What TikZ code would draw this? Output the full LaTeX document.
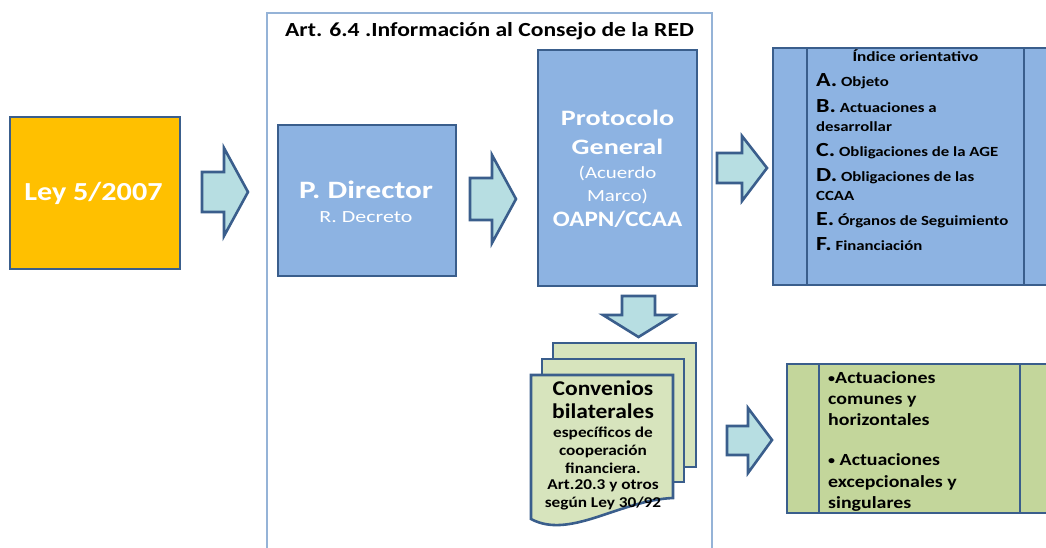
\documentclass[tikz,border=0pt]{standalone}
\usepackage{fontspec}
\setmainfont{Carlito}
\definecolor{bord}{HTML}{3A5E8C}
\definecolor{lawfill}{HTML}{FFC000}
\definecolor{bluefill}{HTML}{8DB3E2}
\definecolor{arrfill}{HTML}{B7DEE2}
\definecolor{framecol}{HTML}{95B3D7}
\definecolor{docfill}{HTML}{D7E4BD}
\definecolor{greenfill}{HTML}{C3D69B}
\tikzset{
  boxshape/.style={draw=bord, line width=2.6pt, rectangle, inner sep=0pt},
  blockarrow/.style={draw=bord, fill=arrfill, line width=2.6pt, line join=miter},
  docshape/.style={draw=bord, fill=docfill, line width=2.6pt, line join=miter},
  wtext/.style={text=white, inner sep=0pt},
  ktext/.style={text=black, inner sep=0pt},
}
\newcommand{\fs}[1]{\fontsize{#1}{#1}\selectfont}
\newcommand{\sx}[2]{\scalebox{#1}[1]{#2}}
\newcommand{\smallbul}{{\fs{12}\raisebox{1pt}{•}}}
\begin{document}
\begin{tikzpicture}[x=1pt,y=-1pt]
\useasboundingbox (0,0) rectangle (1046,547);
\clip (0,0) rectangle (1046,547);

% outer frame
\draw[framecol, line width=2pt] (267,560) -- (267,13) -- (712,13) -- (712,560);
\node[ktext, font=\bfseries\fs{20}] (title) at (489.5,31) {\sx{1.18}{Art. 6.4 .Información al Consejo de la RED}};

% Ley box
\node[boxshape, fill=lawfill, minimum width=170pt, minimum height=152pt] (ley) at (95,193) {};
\node[wtext, font=\bfseries\fs{26}] (leyt) at (93.5,193) {\sx{1.16}{Ley 5/2007}};

% arrow 1
\draw[blockarrow] (202,172) -- (224,172) -- (224,148) -- (248,192) -- (224,236) -- (224,212) -- (202,212) -- cycle;

% P. Director
\node[boxshape, fill=bluefill, minimum width=178pt, minimum height=151pt] (pdir) at (367,200.5) {};
\node[wtext, font=\bfseries\fs{25}] (pdirt) at (366,190) {\sx{1.25}{P. Director}};
\node[wtext, font=\fs{17}] (pdirs) at (366,217) {\sx{1.29}{R. Decreto}};

% arrow 2
\draw[blockarrow] (470,178) -- (492,178) -- (492,155) -- (516,199) -- (492,243) -- (492,220) -- (470,220) -- cycle;

% Protocolo
\node[boxshape, fill=bluefill, minimum width=159pt, minimum height=236pt] (prot) at (617.5,168) {};
\node[wtext, font=\bfseries\fs{22}] (p1) at (617.5,118) {\sx{1.28}{Protocolo}};
\node[wtext, font=\bfseries\fs{22}] (p2) at (617.5,147) {\sx{1.28}{General}};
\node[wtext, font=\fs{17}] (p3) at (617.5,173) {\sx{1.23}{(Acuerdo}};
\node[wtext, font=\fs{17}] (p4) at (617.5,196) {\sx{1.23}{Marco)}};
\node[wtext, font=\bfseries\fs{22}] (p5) at (617.5,219) {\sx{1.14}{OAPN/CCAA}};

% down arrow
\draw[blockarrow] (622,296) -- (655,296) -- (655,315) -- (674,315) -- (638.5,337) -- (603,315) -- (622,315) -- cycle;

% documents
\draw[docshape] (553,343) rectangle (696,467);
\draw[docshape] (542,359) rectangle (684,482);
\draw[docshape] (531,375) -- (673,375) -- (673,498) .. controls (620,500) and (570,540) .. (531,519) -- cycle;
\node[ktext, font=\bfseries\fs{21}] (c1) at (603,388) {\sx{1.12}{Convenios}};
\node[ktext, font=\bfseries\fs{21}] (c2) at (603,411) {\sx{1.12}{bilaterales}};
\node[ktext, font=\bfseries\fs{15}] (c3) at (603,433) {\sx{1.15}{específicos de}};
\node[ktext, font=\bfseries\fs{15}] (c4) at (603,451) {\sx{1.15}{cooperación}};
\node[ktext, font=\bfseries\fs{15}] (c5) at (603,468.5) {\sx{1.15}{financiera.}};
\node[ktext, font=\bfseries\fs{15}] (c6) at (603,486) {\sx{1.15}{Art.20.3 y otros}};
\node[ktext, font=\bfseries\fs{15}] (c7) at (603,503) {\sx{1.15}{según Ley 30/92}};

% arrow 3
\draw[blockarrow] (717,153) -- (742,153) -- (742,136) -- (767,168) -- (742,201) -- (742,183) -- (717,183) -- cycle;

% Indice box
\node[boxshape, fill=bluefill, minimum width=290pt, minimum height=237pt] (ind) at (918,166.5) {};
\draw[bord, line width=2.6pt] (807,48) -- (807,285);
\draw[bord, line width=2.6pt] (1024,48) -- (1024,285);
\node[ktext, font=\bfseries\fs{14}] (i0) at (915.5,56) {\sx{1.23}{Índice orientativo}};
\node[ktext, font=\bfseries\fs{14}, anchor=base west] (iA) at (816,86) {\sx{1.2}{{\fs{20}A.} Objeto}};
\node[ktext, font=\bfseries\fs{14}, anchor=base west] (iB) at (816,112) {\sx{1.2}{{\fs{20}B.} Actuaciones a}};
\node[ktext, font=\bfseries\fs{14}, anchor=base west] (iB2) at (816,131) {\sx{1.2}{desarrollar}};
\node[ktext, font=\bfseries\fs{14}, anchor=base west] (iC) at (816,156) {\sx{1.2}{{\fs{20}C.} Obligaciones de la AGE}};
\node[ktext, font=\bfseries\fs{14}, anchor=base west] (iD) at (816,181) {\sx{1.2}{{\fs{20}D.} Obligaciones de las}};
\node[ktext, font=\bfseries\fs{14}, anchor=base west] (iD2) at (816,200) {\sx{1.2}{CCAA}};
\node[ktext, font=\bfseries\fs{14}, anchor=base west] (iE) at (816,225) {\sx{1.2}{{\fs{20}E.} Órganos de Seguimiento}};
\node[ktext, font=\bfseries\fs{14}, anchor=base west] (iF) at (816,250) {\sx{1.2}{{\fs{20}F.} Financiación}};

% arrow 4
\draw[blockarrow] (727,426) -- (748,426) -- (748,408) -- (772,440) -- (748,473) -- (748,455) -- (727,455) -- cycle;

% green box
\node[boxshape, fill=greenfill, minimum width=280pt, minimum height=149pt] (grn) at (927,438.5) {};
\draw[bord, line width=2.6pt] (819,364) -- (819,513);
\draw[bord, line width=2.6pt] (1020,364) -- (1020,513);
\node[ktext, font=\bfseries\fs{17}, anchor=base west] (g1) at (828,383) {\sx{1.17}{\smallbul Actuaciones}};
\node[ktext, font=\bfseries\fs{17}, anchor=base west] (g2) at (828,404) {\sx{1.17}{comunes y}};
\node[ktext, font=\bfseries\fs{17}, anchor=base west] (g3) at (828,425) {\sx{1.17}{horizontales}};
\node[ktext, font=\bfseries\fs{17}, anchor=base west] (g4) at (828,465) {\sx{1.17}{\smallbul{} Actuaciones}};
\node[ktext, font=\bfseries\fs{17}, anchor=base west] (g5) at (828,487) {\sx{1.17}{excepcionales y}};
\node[ktext, font=\bfseries\fs{17}, anchor=base west] (g6) at (828,508) {\sx{1.17}{singulares}};
\end{tikzpicture}
\end{document}
